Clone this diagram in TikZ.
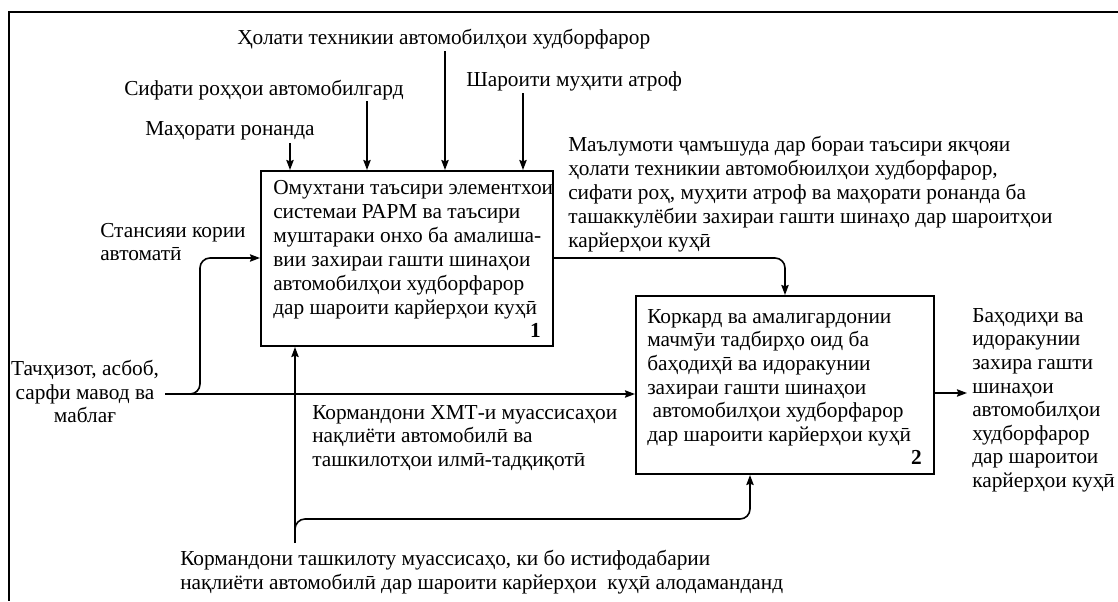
\documentclass[tikz,border=0pt]{standalone}
\usepackage{fontspec}
\setmainfont{Liberation Serif}
\usetikzlibrary{arrows.meta}
\begin{document}
\begin{tikzpicture}[x=0.75pt,y=-0.75pt,
  txt/.style={inner sep=0pt, font=\fontsize{16}{17.7}\selectfont, align=left, anchor=north west},
  lbl/.style={inner sep=0pt, font=\fontsize{16}{17.7}\selectfont, anchor=base west},
  box/.style={draw, line width=1.5pt, inner sep=0pt, anchor=north west},
  arr/.style={line width=1.2pt, -{Stealth[length=7.5pt,width=5.5pt,inset=1pt]}},
  rc/.style={rounded corners=7.5pt},
  num/.style={inner sep=0pt, font=\fontsize{16}{17.7}\selectfont\bfseries, anchor=base east}]
\useasboundingbox (0,0) rectangle (1118,601);
% partial frame
\draw[line width=1.8pt] (1118,12) -- (9,12) -- (9,601);

% function blocks
\node[box, minimum width=219pt, minimum height=131.25pt] (b1) at (260,170) {};
\node[box, minimum width=223.5pt, minimum height=133.5pt] (b2) at (635,295) {};

\node[txt, font=\fontsize{16}{18}\selectfont] (b1t) at (273,180) {Омухтани таъсири элементхои\\
системаи РАРМ ва таъсири\\
муштараки онхо ба амалиша-\\
вии захираи гашти шинаҳои\\
автомобилҳои худборфарор\\
дар шароити карйерҳои куҳӣ};
\node[num] (b1n) at (541,337) {1};

\node[txt] (b2t) at (647,309) {Коркард ва амалигардонии\\
мачмӯи тадбирҳо оид ба\\
баҳодиҳӣ ва идоракунии\\
захираи гашти шинаҳои\\
\hspace{0.25em}автомобилҳои худборфарор\\
дар шароити карйерҳои куҳӣ};
\node[num] (b2n) at (922,464) {2};

% controls
\node[lbl] (c3) at (237,44) {Ҳолати техникии автомобилҳои худборфарор};
\node[lbl] (c4) at (466,86) {Шароити муҳити атроф};
\node[lbl] (c2) at (124,95) {Сифати роҳҳои автомобилгард};
\node[lbl] (c1) at (145,135) {Маҳорати ронанда};
\coordinate (t1) at (290,143);
\coordinate (t2) at (367,101);
\coordinate (t3) at (445,51);
\coordinate (t4) at (523,93);
\foreach \t in {t1,t2,t3,t4} \draw[arr] (\t) -- (\t |- b1.north);

% inputs
\node[txt] (st) at (100,223) {Стансияи кории\\автоматӣ};
\node[txt, align=center, anchor=north] (inp) at (85,360) {Тачҳизот, асбоб,\\сарфи мавод ва\\маблағ};
\coordinate (i0) at (165,394);
\coordinate (i1) at (178,394);
\coordinate (k1) at (200,258);
\draw[arr] (i0) -- (i0 -| b2.west);
\draw[arr, rc] (i1) -| (k1) -- (k1 -| b1.west);

% output of block 1 into block 2
\node[txt, font=\fontsize{16}{17.9}\selectfont] (inf) at (568,136) {Маълумоти ҷамъшуда дар бораи таъсири якҷояи\\
ҳолати техникии автомобюилҳои худборфарор,\\
сифати роҳ, муҳити атроф ва маҳорати ронанда ба\\
ташаккулёбии захираи гашти шинаҳо дар шароитҳои\\
карйерҳои куҳӣ};
\coordinate (k2) at (785,258);
\draw[arr, rc] (k2 -| b1.east) -- (k2) -- (k2 |- b2.north);

% final output
\node[txt] (out) at (972,308) {Баҳодиҳи ва\\идоракунии\\захира гашти\\шинаҳои\\автомобилҳои\\худборфарор\\дар шароитои\\карйерҳои куҳӣ};
\coordinate (o2) at (967,393);
\draw[arr] (o2 -| b2.east) -- (o2);

% mechanisms
\node[txt] (me1) at (312,405) {Кормандони ХМТ-и муассисаҳои\\
нақлиёти автомобилӣ ва\\
ташкилотҳои илмӣ-тадқиқотӣ};
\node[txt] (me2) at (180,550) {Кормандони ташкилоту муассисаҳо, ки бо истифодабарии\\
нақлиёти автомобилӣ дар шароити карйерҳои\ \ куҳӣ алодаманданд};
\coordinate (m0) at (295,543);
\coordinate (m1) at (295,531);
\coordinate (k3) at (750,519);
\draw[arr] (m0) -- (m0 |- b1.south);
\draw[arr, rc] (m1) |- (k3) -- (k3 |- b2.south);
\end{tikzpicture}
\end{document}
